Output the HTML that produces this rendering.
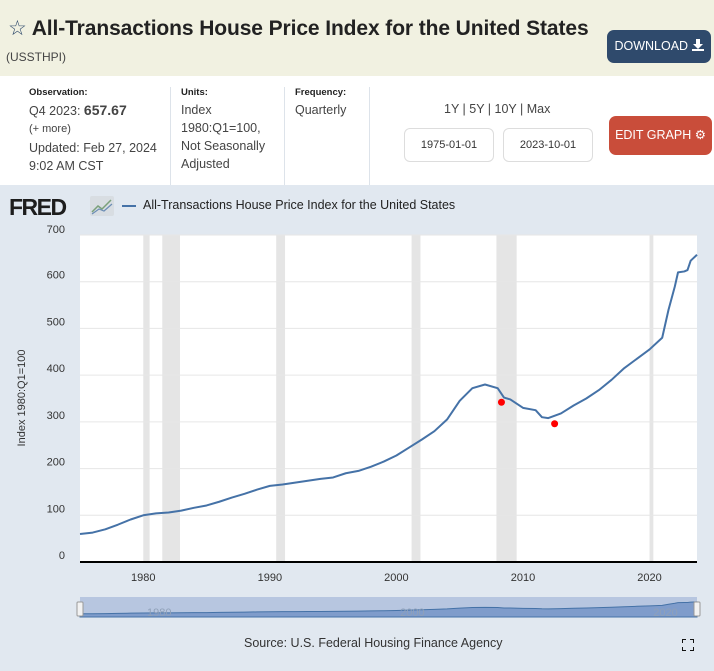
<!DOCTYPE html>
<html><head><meta charset="utf-8">
<style>
body{margin:0;width:714px;height:671px;overflow:hidden;font-family:"Liberation Sans",sans-serif;background:#fff;position:relative}
.abs{position:absolute}
#hdr{left:0;top:0;width:714px;height:76px;background:#f1f1e1}
#title{left:8px;top:16px;font-size:21px;font-weight:bold;color:#222;white-space:nowrap;letter-spacing:-0.1px}
#sid{left:6px;top:50px;font-size:12px;color:#444}
#dl{left:607px;top:30px;width:104px;height:33px;background:#2f4a6c;border-radius:7px;color:#fff;font-size:12.5px;line-height:33px;text-align:center}
.lbl{font-size:9.5px;font-weight:bold;color:#222}
.val{font-size:12.5px;color:#444;line-height:18px}
.sep{width:1px;background:#dde3ea}
.date{width:88px;height:32px;border:1px solid #ddd;border-radius:6px;font-size:11px;color:#333;text-align:center;line-height:32px}
#edit{left:609px;top:116px;width:103px;height:39px;background:#c94d3a;border-radius:7px;color:#fff;font-size:12.5px;line-height:39px;text-align:center}
#chart{left:0;top:185px;width:714px;height:486px;background:#e1e8f0}
</style></head><body>
<div id="hdr" class="abs"></div>
<div id="title" class="abs"><span style="color:#2f4a6c;font-weight:normal">☆</span> All-Transactions House Price Index for the United States</div>
<div id="sid" class="abs">(USSTHPI)</div>
<div id="dl" class="abs">DOWNLOAD <svg width="12" height="12" style="vertical-align:-1px"><path d="M4 0H8V5H11L6 10L1 5H4Z M0 10V12H12V10" fill="#fff"/></svg></div>

<div class="abs lbl" style="left:29px;top:87px">Observation:</div>
<div class="abs val" style="left:29px;top:101px">Q4 2023: <b style="font-size:14px">657.67</b></div>
<div class="abs" style="left:29px;top:123px;font-size:11px;color:#444">(+ more)</div>
<div class="abs val" style="left:29px;top:139px">Updated: Feb 27, 2024<br>9:02 AM CST</div>
<div class="abs sep" style="left:170px;top:87px;height:98px"></div>
<div class="abs lbl" style="left:181px;top:87px">Units:</div>
<div class="abs val" style="left:181px;top:101px">Index<br>1980:Q1=100,<br>Not Seasonally<br>Adjusted</div>
<div class="abs sep" style="left:284px;top:87px;height:98px"></div>
<div class="abs lbl" style="left:295px;top:87px">Frequency:</div>
<div class="abs val" style="left:295px;top:101px">Quarterly</div>
<div class="abs sep" style="left:369px;top:87px;height:98px"></div>
<div class="abs val" style="left:444px;top:100px">1Y | 5Y | 10Y | Max</div>
<div class="abs date" style="left:404px;top:128px">1975-01-01</div>
<div class="abs date" style="left:503px;top:128px">2023-10-01</div>
<div id="edit" class="abs">EDIT GRAPH ⚙</div>

<div id="chart" class="abs"></div>
<div class="abs" style="left:9px;top:194px;font-size:23px;font-weight:900;color:#1d1d1d;letter-spacing:-1.5px">FRED</div>
<svg class="abs" style="left:90px;top:196px" width="24" height="20"><rect width="24" height="20" rx="2" fill="#d8dde2"/><polyline points="2,16 8,10 12,13 21,4" fill="none" stroke="#7aa07a" stroke-width="1.5"/><polyline points="2,18 9,13 14,15 22,8" fill="none" stroke="#6b8db5" stroke-width="1.2"/></svg>
<div class="abs" style="left:122px;top:205px;width:14px;height:2px;background:#4572a7"></div>
<div class="abs" style="left:143px;top:198px;font-size:12.5px;color:#222">All-Transactions House Price Index for the United States</div>

<svg id="svg" class="abs" style="left:0;top:0" width="714" height="671"></svg>
<div class="abs" style="left:244px;top:636px;font-size:12.5px;color:#333">Source: U.S. Federal Housing Finance Agency</div>
<svg class="abs" style="left:682px;top:639px" width="12" height="12"><path d="M0 4V0H4M8 0H12V4M12 8V12H8M4 12H0V8" fill="none" stroke="#111" stroke-width="2"/></svg>

<script>
const dates=[1975,1976,1977,1978,1979,1980,1981,1982,1983,1984,1985,1986,1987,1988,1989,1990,1991,1992,1993,1994,1995,1996,1997,1998,1999,2000,2001,2002,2003,2004,2005,2006,2007,2008,2008.5,2009,2010,2011,2011.5,2012,2013,2014,2015,2016,2017,2018,2019,2020,2021,2021.5,2022,2022.25,2022.75,2023,2023.25,2023.75];
const values=[60,63,70,80,91,100,104,106,110,116,121,129,138,146,155,163,166,170,174,178,181,190,195,204,215,228,245,262,280,305,345,372,380,372,352,348,330,325,310,308,318,335,350,368,390,415,435,455,480,540,590,620,622,625,645,657.67];
const recessions=[[1980.0,1980.5],[1981.5,1982.9],[1990.5,1991.2],[2001.2,2001.9],[2007.9,2009.5],[2020.0,2020.3]];
const markerDates=[2008.3,2012.5];
const markerValues=[342,296];
const yTicks=[0,100,200,300,400,500,600,700];
const xTicks=[1980,1990,2000,2010,2020];

const NS='http://www.w3.org/2000/svg',svg=document.getElementById('svg');
const L=80,R=697,T=235,B=562,x0=1975,x1=2023.75;
const xs=d=>L+(d-x0)/(x1-x0)*(R-L);
const ys=v=>B-v/700*(B-T);
function mk(t,a){const e=document.createElementNS(NS,t);for(const k in a)e.setAttribute(k,a[k]);svg.appendChild(e);return e;}
const bg=mk('rect',{x:L,y:T,width:R-L,height:B-T,fill:'#fff'});


recessions.forEach(r=>{const e=mk('rect',{x:xs(r[0]),y:T,width:Math.max(2,xs(r[1])-xs(r[0])),height:B-T,fill:'#e5e5e5'});

});
yTicks.forEach(v=>{if(v>0){const g=mk('line',{x1:L,x2:R,y1:ys(v),y2:ys(v),stroke:'#e6e6e6'});

}
const t=mk('text',{x:65,y:ys(v)+(v==700?-2:-3),'text-anchor':'end','font-size':'11',fill:'#333','font-family':'Liberation Sans'});t.textContent=v;

});
xTicks.forEach(d=>{const t=mk('text',{x:xs(d),y:581,'text-anchor':'middle','font-size':'11',fill:'#333','font-family':'Liberation Sans'});t.textContent=d;

});
const ax=mk('line',{x1:L,x2:R,y1:B,y2:B,stroke:'#000','stroke-width':2});


const yt=mk('text',{x:0,y:0,transform:'translate(25,398) rotate(-90)','text-anchor':'middle','font-size':'11',fill:'#333','font-family':'Liberation Sans'});yt.textContent='Index 1980:Q1=100';


const line=mk('polyline',{points:dates.map((d,i)=>xs(d)+','+ys(values[i])).join(' '),fill:'none',stroke:'#4572a7','stroke-width':2,'stroke-linejoin':'round'});


markerDates.forEach((d,i)=>{const c=mk('circle',{cx:xs(d),cy:ys(markerValues[i]),r:3.5,fill:'#f00'});

});
const NT=597,NB=617;
const nb=mk('rect',{x:L,y:NT,width:R-L,height:NB-NT,fill:'#b7c6e0'});


const nys=v=>NB-2-v/700*14;
const area=mk('polygon',{points:xs(x0)+','+NB+' '+dates.map((d,i)=>xs(d)+','+nys(values[i])).join(' ')+' '+xs(x1)+','+NB,fill:'#7f9ccb',stroke:'#4572a7','stroke-width':1});


xTicks.filter((d,i)=>i%2==0).forEach(d=>{const t=mk('text',{x:xs(d)+16,y:616,'text-anchor':'middle','font-size':'11',fill:'#8fa0b8','font-family':'Liberation Sans'});t.textContent=d;

});
[L,R].forEach(x=>{const h=mk('rect',{x:x-3,y:NT+5,width:6,height:14,fill:'#f2f2f2',stroke:'#999',rx:1});

});
</script>
</body></html>
